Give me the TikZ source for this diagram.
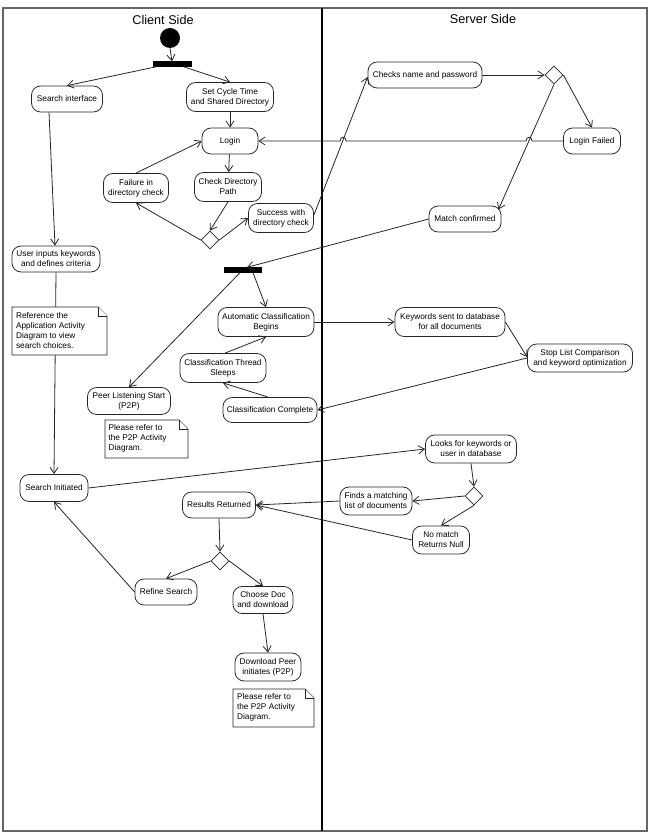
\documentclass[tikz,border=0pt]{standalone}
\usepackage{fontspec}
\setmainfont{Liberation Sans}
\usetikzlibrary{arrows.meta,calc,shapes.geometric}
\begin{document}
\begin{tikzpicture}[x=0.75pt,y=-0.75pt,
  every node/.style={font=\fontsize{6.2}{7.5}\selectfont},
  act/.style n args={2}{draw=black!85, line width=0.6pt, rounded corners=6.8pt, fill=white, align=center, inner sep=1pt, minimum width=#1*0.75pt, minimum height=#2*0.75pt},
  decision/.style={diamond, draw=black!85, line width=0.6pt, fill=white, minimum width=13.5pt, minimum height=13.5pt, inner sep=0pt},
  forkbar/.style={rectangle, fill=black, draw=black, minimum width=#1*0.75pt, minimum height=3.6pt, inner sep=0pt},
  flow/.style={draw=black!85, line width=0.6pt, -{Straight Barb[length=4.5pt,width=6pt]}},
  notebox/.style={draw=black!85, line width=0.6pt, fill=white},
  notetext/.style={anchor=north west, align=left, inner sep=1pt},
  header/.style={font=\fontsize{9.5}{11}\selectfont}
]
\useasboundingbox (0,0) rectangle (653,834);
% frame
\draw[black!60, line width=0.8pt] (3,8) rectangle (647,831);
\draw[black, line width=1pt] (322,8) -- (322,831);
\node[header] (client) at (163,20) {Client Side};
\node[header] (server) at (483,19) {Server Side};

% client side nodes
\node[circle, fill=black, minimum size=15pt, inner sep=0pt] (start) at (170,38) {};
\node[forkbar=38] (f1) at (172,64) {};
\node[act={71}{26}] (sint) at (67,99) {Search interface};
\node[act={87}{29}] (scd) at (230,97) {Set Cycle Time\\and Shared Directory};
\node[act={56}{26}] (login) at (230,141) {Login};
\node[act={65}{29}] (fail) at (136,188) {Failure in\\directory check};
\node[act={67}{29}] (cdp) at (228,187) {Check Directory\\Path};
\node[act={65}{29}] (succ) at (281,218) {Success with\\directory check};
\node[decision] (d1) at (210,240) {};
\node[act={88}{26}] (ui) at (56,259) {User inputs keywords\\and defines criteria};
\node[forkbar=37] (f2) at (243,270) {};
\node[act={96}{29}] (acb) at (266,322) {Automatic Classification\\Begins};
\node[act={86}{29}] (cts) at (223,368) {Classification Thread\\Sleeps};
\node[act={83}{27}] (pls) at (129,401) {Peer Listening Start\\(P2P)};
\node[act={94}{25}] (cc) at (270,410) {Classification Complete};
\node[act={68}{27}] (si) at (54,488) {Search Initiated};
\node[act={73}{26}] (rr) at (219,505) {Results Returned};
\node[decision] (d4) at (220,561) {};
\node[act={62}{26}] (refine) at (166,592) {Refine Search};
\node[act={60}{27}] (choose) at (263,600) {Choose Doc\\and download};
\node[act={66}{28}] (dl) at (268,667) {Download Peer\\initiates (P2P)};

% server side nodes
\node[act={114}{26}] (chk) at (425,75) {Checks name and password};
\node[decision] (d2) at (554,75) {};
\node[act={57}{26}] (lf) at (592,141) {Login Failed};
\node[act={72}{26}] (mc) at (465,219) {Match confirmed};
\node[act={110}{29}] (kw) at (450,322) {Keywords sent to database\\for all documents};
\node[act={105}{28}] (stop) at (580,358) {Stop List Comparison\\and keyword optimization};
\node[act={91}{28}] (look) at (471,449) {Looks for keywords or\\user in database};
\node[decision] (d3) at (474,496) {};
\node[act={72}{28}] (finds) at (376,501) {Finds a matching\\list of documents};
\node[act={57}{28}] (nomatch) at (441,540) {No match\\Returns Null};

% connectors
\draw[flow] (start.south) -- (f1.north);
\draw[flow] ($(f1.south west)+(4,0)$) -- (sint.north);
\draw[flow] ($(f1.south east)+(-8,0)$) -- (scd.north);
\draw[flow] (scd) -- (login);
\draw[flow] ($(sint.south)+(-18,0)$) -- ($(ui.north)+(-1,0)$);
\draw[flow] (login) -- (cdp);
\draw[flow] (fail.north) -- (login.west);
\draw[flow] (cdp.south) -- (d1.north);
\draw[flow] (d1.west) -- (fail.south);
\draw[flow] (d1.east) -- (succ.west);
\draw[flow] ($(succ.east)+(0,-3)$) -- ($(chk.west)+(0,2)$);
\draw[flow] (chk.east) -- (d2.west);
\draw[flow] (d2.east) -- (lf.north);
\draw[flow] (d2.south) -- ($(mc.north east)+(-3,4)$);
\draw[flow] (lf.west) -- (532,141) .. controls (532,136) and (526,136) .. (526,141)
  -- (346,141) .. controls (346,136) and (340,136) .. (340,141) -- (login.east);
\draw[flow] (mc.west) -- ($(f2.north)+(4,0)$);
\draw[flow] ($(f2.south)+(10,0)$) -- (acb.north);
\draw[flow] ($(f2.south)+(-3,0)$) -- (pls.north);
\draw[flow] (ui.south) -- (si.north);
\draw[flow] (acb.east) -- (kw.west);
\draw[flow] (kw.east) -- ($(stop.west)+(0,-1)$);
\draw[flow] (stop.west) -- (cc.east);
\draw[flow] ($(cc.north)+(-2,0)$) -- (cts.south);
\draw[flow] ($(cts.north)+(2,0)$) -- (acb.south);
\draw[flow] (si.east) -- (look.west);
\draw[flow] (look.south) -- (d3.north);
\draw[flow] (d3.west) -- (finds.east);
\draw[flow] (d3.south) -- (nomatch.north);
\draw[flow] (finds.west) -- (rr.east);
\draw[flow] (nomatch.west) -- (rr.east);
\draw[flow] (rr.south) -- (d4.north);
\draw[flow] (d4.west) -- (refine.north);
\draw[flow] (d4.east) -- (choose.north);
\draw[flow] (refine.west) -- (si.south);
\draw[flow] (choose.south) -- (dl.north);

% notes
\draw[notebox] (12,307) -- (98,307) -- (107,316) -- (107,355) -- (12,355) -- cycle;
\draw[notebox] (98,307) -- (98,316) -- (107,316);
\node[notetext] (n1) at (14.5,311) {Reference the\\Application Activity\\Diagram to view\\search choices.};

\draw[notebox] (105,420) -- (179,420) -- (188,429) -- (188,458) -- (105,458) -- cycle;
\draw[notebox] (179,420) -- (179,429) -- (188,429);
\node[notetext] (n2) at (107,423) {Please refer to\\the P2P Activity\\Diagram.};

\draw[notebox] (233,689) -- (305,689) -- (314,698) -- (314,727) -- (233,727) -- cycle;
\draw[notebox] (305,689) -- (305,698) -- (314,698);
\node[notetext] (n3) at (235.5,692) {Please refer to\\the P2P Activity\\Diagram.};
\end{tikzpicture}
\end{document}
